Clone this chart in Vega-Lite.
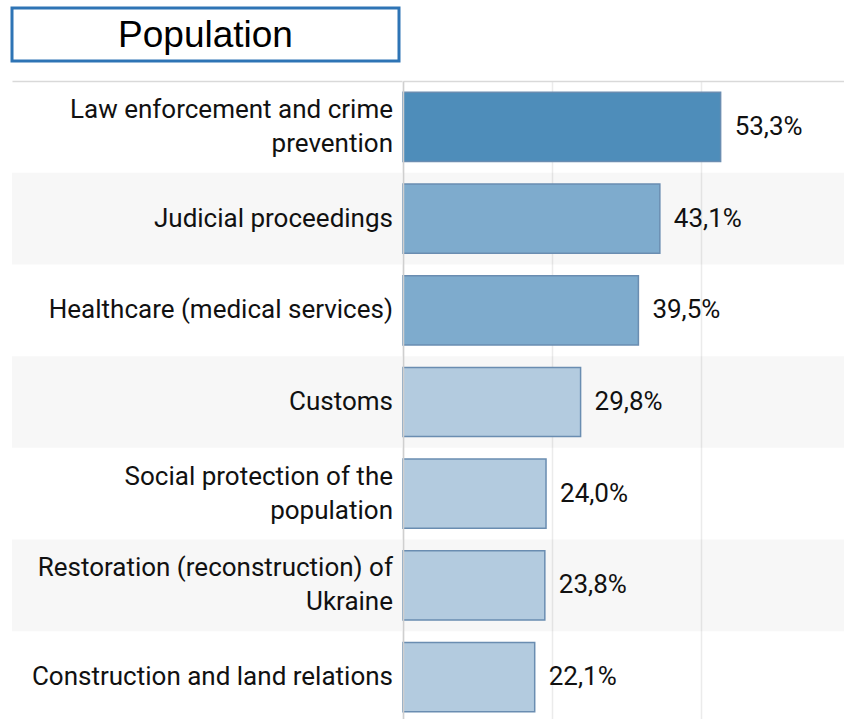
{
  "$schema": "https://vega.github.io/schema/vega-lite/v6.json",
  "padding": {"left": 10, "top": 6, "right": 0, "bottom": 0},
  "background": "white",
  "config": {
    "view": {"stroke": null},
    "font": "Roboto",
    "locale": {"number": {"decimal": ",", "thousands": ".", "grouping": [3], "currency": ["", ""]}}
  },
  "data": {"values": [
    {"rank": 1, "cat": "Law enforcement and crime prevention", "label": "Law enforcement and crime\nprevention", "value": 0.533},
    {"rank": 2, "cat": "Judicial proceedings", "label": "Judicial proceedings", "value": 0.431},
    {"rank": 3, "cat": "Healthcare (medical services)", "label": "Healthcare (medical services)", "value": 0.395},
    {"rank": 4, "cat": "Customs", "label": "Customs", "value": 0.298},
    {"rank": 5, "cat": "Social protection of the population", "label": "Social protection of the\npopulation", "value": 0.240},
    {"rank": 6, "cat": "Restoration (reconstruction) of Ukraine", "label": "Restoration (reconstruction) of\nUkraine", "value": 0.238},
    {"rank": 7, "cat": "Construction and land relations", "label": "Construction and land relations", "value": 0.221}
  ]},
  "spacing": 18,
  "vconcat": [
    {
      "width": 387,
      "height": 53,
      "data": {"values": [{"t": "Population"}]},
      "view": {"stroke": "#2e74b5", "strokeWidth": 3, "fill": "white"},
      "mark": {"type": "text", "fontSize": 37, "font": "Liberation Sans", "color": "black", "align": "center", "baseline": "middle", "dy": 1},
      "encoding": {"text": {"field": "t"}}
    },
    {
      "spacing": 0,
      "hconcat": [
        {
          "width": 390,
          "height": 642,
          "layer": [
            {
              "transform": [{"filter": "datum.rank % 2 == 0"}],
              "mark": {"type": "rect", "fill": "#f7f7f7"},
              "encoding": {
                "y": {"field": "rank", "type": "ordinal", "axis": null, "scale": {"padding": 0}},
                "x": {"datum": 0, "type": "quantitative", "scale": {"domain": [0, 1], "nice": false},
                  "axis": {"orient": "top", "domain": true, "domainColor": "#d9d9d9", "domainWidth": 1.5, "labels": false, "ticks": false, "grid": false, "title": null, "minExtent": 0, "maxExtent": 0, "offset": 0}},
                "x2": {"datum": 1}
              }
            },
            {
              "transform": [{"filter": "indexof(datum.label, '\\n') < 0"}],
              "mark": {"type": "text", "align": "right", "baseline": "middle", "fontSize": 26, "color": "#111111", "dx": -9},
              "encoding": {
                "y": {"field": "rank", "type": "ordinal"},
                "x": {"datum": 1, "type": "quantitative"},
                "text": {"field": "label"}
              }
            },
            {
              "transform": [{"filter": "indexof(datum.label, '\\n') >= 0"}],
              "mark": {"type": "text", "align": "right", "baseline": "middle", "fontSize": 26, "lineBreak": "\n", "lineHeight": 34, "color": "#111111", "dx": -9, "dy": -17},
              "encoding": {
                "y": {"field": "rank", "type": "ordinal"},
                "x": {"datum": 1, "type": "quantitative"},
                "text": {"field": "label"}
              }
            }
          ]
        },
        {
          "width": 441,
          "height": 642,
          "layer": [
            {
              "transform": [{"filter": "datum.rank % 2 == 0"}],
              "mark": {"type": "rect", "fill": "black", "fillOpacity": 0.03},
              "encoding": {
                "y": {"field": "rank", "type": "ordinal", "scale": {"padding": 0},
                  "axis": {"domain": true, "domainColor": "#cfcfcf", "domainWidth": 1.5, "labels": false, "ticks": false, "grid": false, "title": null, "minExtent": 0, "maxExtent": 0, "offset": 0}},
                "x": {"datum": 0, "type": "quantitative", "scale": {"domain": [0, 0.74], "nice": false},
                  "axis": {"orient": "top", "values": [0, 0.25, 0.5], "domain": true, "domainColor": "#d9d9d9", "domainWidth": 1.5, "labels": false, "ticks": false, "grid": true, "gridColor": "#ebebeb", "gridWidth": 1.5, "title": null, "minExtent": 0, "maxExtent": 0, "offset": 0}},
                "x2": {"datum": 0.74}
              }
            },
            {
              "mark": {"type": "bar", "height": {"band": 0.755}, "stroke": "#6a8db1", "strokeWidth": 1.5},
              "encoding": {
                "y": {"field": "rank", "type": "ordinal"},
                "x": {"field": "value", "type": "quantitative"},
                "fill": {"field": "value", "type": "quantitative", "legend": null,
                  "scale": {"type": "threshold", "domain": [0.3, 0.5], "range": ["#b3cbdf", "#7eabcd", "#4e8dba"]}}
              }
            },
            {
              "mark": {"type": "text", "align": "left", "baseline": "middle", "fontSize": 26, "dx": 14, "color": "#111111"},
              "encoding": {
                "y": {"field": "rank", "type": "ordinal"},
                "x": {"field": "value", "type": "quantitative"},
                "text": {"field": "value", "type": "quantitative", "format": ".1%"}
              }
            }
          ]
        }
      ]
    }
  ]
}
